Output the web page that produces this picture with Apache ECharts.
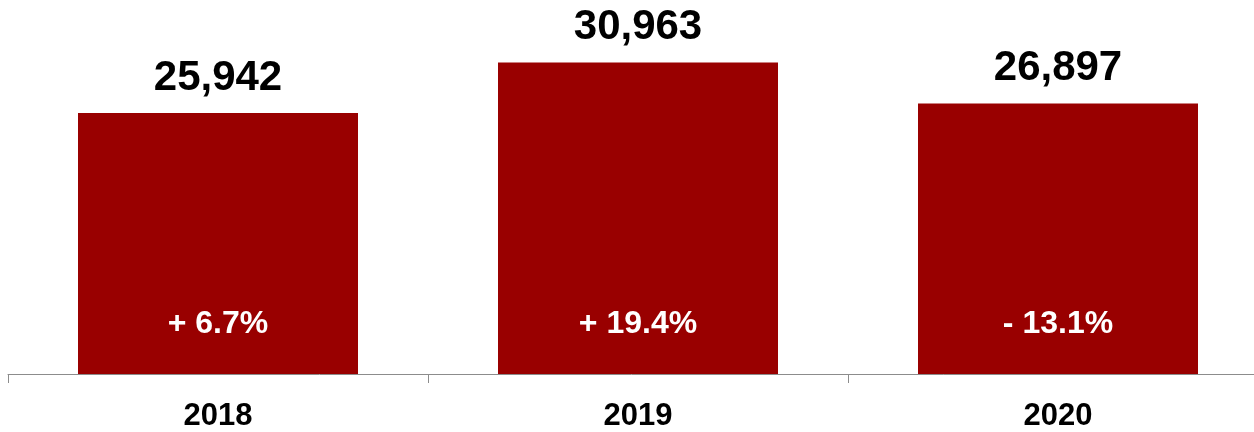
<!DOCTYPE html>
<html>
<head>
<meta charset="utf-8">
<script src="https://cdn.jsdelivr.net/npm/echarts@6/dist/echarts.min.js"></script>
<style>html,body{margin:0;padding:0;background:#fff;}#c{width:1254px;height:432px;}</style>
</head>
<body>
<div id="c"></div>
<script>
const categories = ['2018', '2019', '2020'];
const values = [25942, 30963, 26897];
const changes = ['+ 6.7%', '+ 19.4%', '- 13.1%'];

const FONT = '"Liberation Sans", Arial, Helvetica, sans-serif';
const chart = echarts.init(document.getElementById('c'), null, {renderer: 'canvas'});
chart.setOption({
  animation: false,
  grid: {left: 8, width: 1260, top: 22, bottom: 58, containLabel: false, outerBoundsMode: 'none'},
  xAxis: {
    type: 'category',
    data: categories,
    axisLine: {lineStyle: {color: '#8c8c8c', width: 1}},
    axisTick: {show: true, length: 9, lineStyle: {color: '#8c8c8c'}},
    axisLabel: {color: '#000', fontSize: 31, fontWeight: 'bold', fontFamily: FONT, margin: 27}
  },
  yAxis: {type: 'value', min: 0, max: 35000, show: false, splitLine: {show: false}},
  series: [
    {
      type: 'bar',
      data: values,
      barWidth: 280,
      itemStyle: {color: '#990000'},
      label: {
        show: true, position: 'top', distance: 14,
        color: '#000', fontSize: 42, fontWeight: 'bold', fontFamily: FONT,
        formatter: p => p.value.toLocaleString('en-US')
      }
    },
    {
      type: 'bar',
      data: values,
      barWidth: 280,
      barGap: '-100%',
      itemStyle: {color: 'rgba(0,0,0,0)'},
      silent: true,
      label: {
        show: true, position: 'insideBottom', distance: 34,
        color: '#fff', fontSize: 32, fontWeight: 'bold', fontFamily: FONT,
        formatter: p => changes[p.dataIndex]
      }
    }
  ]
});
</script>
</body>
</html>
